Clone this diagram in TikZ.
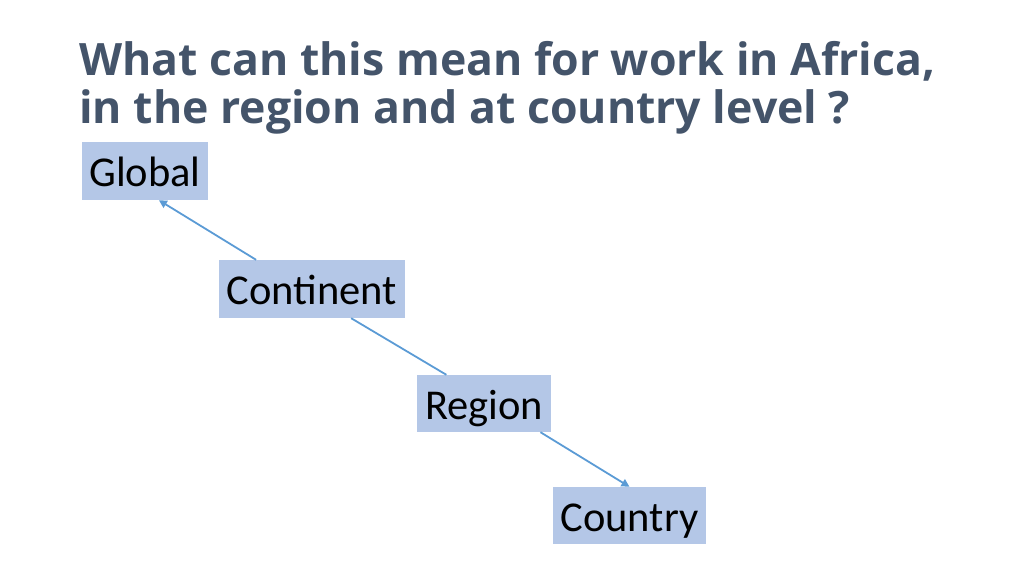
\documentclass[tikz,border=0pt]{standalone}
\usepackage{fontspec}
\setmainfont{Carlito}
\newfontfamily\titlefont{Open Sans}
\usetikzlibrary{arrows.meta,calc}
\definecolor{titlecol}{HTML}{44546A}
\definecolor{boxfill}{HTML}{B4C7E7}
\definecolor{linecol}{HTML}{5B9BD5}
\tikzset{
  lvlbox/.style={fill=boxfill,inner sep=0pt,font=\fontsize{42.5}{44}\selectfont,text height=31pt,text depth=0pt},
  titletext/.style={anchor=base west,inner sep=0pt,text=titlecol,font=\titlefont\bfseries\fontsize{44.6}{48}\selectfont},
  conn/.style={draw=linecol,line width=1.8pt},
  connarrow/.style={conn,-{Triangle[length=8pt,width=8pt]}}
}
\begin{document}
\begin{tikzpicture}[x=1pt,y=-1pt]
\useasboundingbox (0,0) rectangle (1024,575);
\node[titletext] (t1) at (79,75.5) {What can this mean for work in Africa,};
\node[titletext] (t2) at (79,124) {in the region and at country level ?};
\node[lvlbox,minimum width=126pt,minimum height=58pt] (glob) at (145,171) {Global};
\node[lvlbox,minimum width=186pt,minimum height=58pt] (cont) at (312,289) {Continent};
\node[lvlbox,minimum width=134pt,minimum height=57pt] (reg) at (484,403.5) {Region};
\node[lvlbox,minimum width=153pt,minimum height=57pt] (ctry) at (629.5,515.5) {Country};
\draw[connarrow] ($(cont.north west)!0.2!(cont.north east)$) -- ($(glob.south west)!0.61!(glob.south east)$);
\draw[conn] ($(cont.south west)!0.71!(cont.south east)$) -- ($(reg.north west)!0.22!(reg.north east)$);
\draw[connarrow] ($(reg.south west)!0.92!(reg.south east)$) -- (ctry.north);
\end{tikzpicture}
\end{document}
